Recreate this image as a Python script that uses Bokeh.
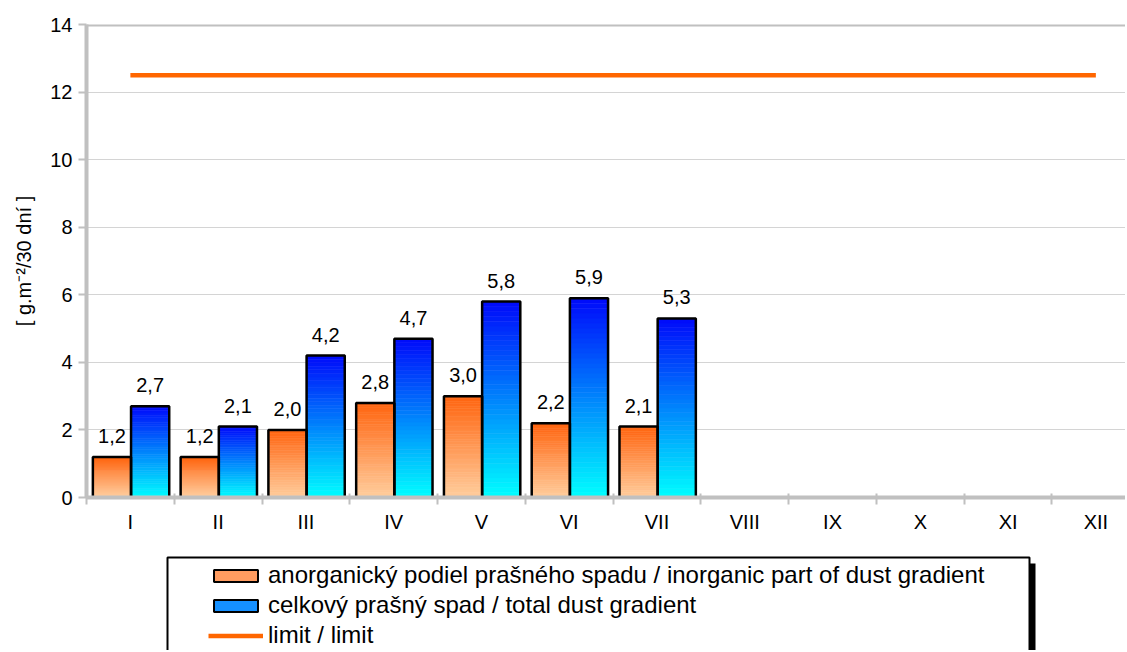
from bokeh.plotting import figure
from bokeh.layouts import column
from bokeh.models import (Range1d, FixedTicker, ColumnDataSource, Legend, LegendItem,
                          BoxAnnotation, Span)
from bokeh.core.properties import value
from bokeh.embed import file_html
from bokeh.resources import INLINE

# ---- data ----
months = ["I", "II", "III", "IV", "V", "VI", "VII", "VIII", "IX", "X", "XI", "XII"]
inorganic = [1.2, 1.2, 2.0, 2.8, 3.0, 2.2, 2.1]
total = [2.7, 2.1, 4.2, 4.7, 5.8, 5.9, 5.3]
limit = [12.5] * 12
y_ticks = [0, 2, 4, 6, 8, 10, 12, 14]
labels = {
    "inorganic": "anorganický podiel prašného spadu / inorganic part of dust gradient",
    "total": "celkový prašný spad / total dust gradient",
    "limit": "limit / limit",
}
y_title = "[ g.m⁻²/30 dní ]"

FONT = "Liberation Sans"
ORANGE_TOP = (255, 100, 15)
ORANGE_BOT = (255, 206, 158)
BLUE_TOP = (0, 10, 250)
BLUE_BOT = (0, 255, 255)
NSLICE = 40
BAR_W = 0.435
OFF_O = 0.29
OFF_B = 0.725
NAN = float("nan")


def hexc(c):
    return "#%02x%02x%02x" % tuple(int(round(v)) for v in c)


def gradient_source(vals, offset, top_c, bot_c):
    xs, bots, tops, cols = [], [], [], []
    for i, v in enumerate(vals):
        for k in range(NSLICE):
            t = (k + 0.5) / NSLICE
            xs.append(i + offset)
            bots.append(v * k / NSLICE)
            tops.append(v * (k + 1) / NSLICE)
            cols.append(hexc([b + (a - b) * t for a, b in zip(top_c, bot_c)]))
    return ColumnDataSource(dict(x=xs, bottom=bots, top=tops, color=cols))


W = 1125
H_MAIN = 545
H_LEG = 105
LEFT = 86
x_end = (W - LEFT) / 87.77

p = figure(width=W, height=H_MAIN, output_backend="svg", toolbar_location=None,
           x_range=Range1d(0, x_end), y_range=Range1d(0, 14),
           min_border_left=LEFT, min_border_right=0, min_border_top=24, min_border_bottom=48)
p.outline_line_color = None
p.background_fill_color = "white"

# grid
p.xgrid.visible = False
p.ygrid.ticker = FixedTicker(ticks=y_ticks)
p.ygrid.grid_line_color = "#d4d4d4"
p.ygrid.grid_line_width = 1

# y axis
p.yaxis.ticker = FixedTicker(ticks=y_ticks)
p.yaxis.axis_line_color = "#c0c0c0"
p.yaxis.axis_line_width = 4
p.yaxis.major_tick_line_color = "#c0c0c0"
p.yaxis.major_tick_line_width = 2
p.yaxis.major_tick_out = 8
p.yaxis.major_tick_in = 0
p.yaxis.minor_tick_line_color = None
p.yaxis.major_label_text_font = FONT
p.yaxis.major_label_text_font_size = "20px"
p.yaxis.major_label_text_color = "black"
p.yaxis.major_label_standoff = 6
p.yaxis.axis_label = y_title
p.yaxis.axis_label_text_font = FONT
p.yaxis.axis_label_text_font_style = "normal"
p.yaxis.axis_label_text_font_size = "20px"
p.yaxis.axis_label_text_color = "black"
p.yaxis.axis_label_standoff = 12

# x axis: labels at centers, ticks at boundaries
centers = [i + 0.5 for i in range(len(months))]
p.xaxis.ticker = FixedTicker(ticks=centers, minor_ticks=list(range(len(months) + 1)))
p.xaxis.major_label_overrides = {c: m for c, m in zip(centers, months)}
p.xaxis.axis_line_color = "#c0c0c0"
p.xaxis.axis_line_width = 4
p.xaxis.major_tick_line_color = None
p.xaxis.major_tick_out = 7
p.xaxis.major_tick_in = 0
p.xaxis.minor_tick_line_color = "#c0c0c0"
p.xaxis.minor_tick_line_width = 2
p.xaxis.minor_tick_out = 7
p.xaxis.minor_tick_in = 4
p.xaxis.major_label_text_font = FONT
p.xaxis.major_label_text_font_size = "20px"
p.xaxis.major_label_text_color = "black"
p.xaxis.major_label_standoff = 6

# top border
p.add_layout(Span(location=14, dimension="width", line_color="#c0c0c0", line_width=4))

# gradient bars
so = gradient_source(inorganic, OFF_O, ORANGE_TOP, ORANGE_BOT)
sb = gradient_source(total, OFF_B, BLUE_TOP, BLUE_BOT)
p.vbar(x="x", bottom="bottom", top="top", width=BAR_W, fill_color="color", line_color="color",
       line_width=0.6, source=so)
p.vbar(x="x", bottom="bottom", top="top", width=BAR_W, fill_color="color", line_color="color",
       line_width=0.6, source=sb)
# outlines
xo = [i + OFF_O for i in range(len(inorganic))]
xb = [i + OFF_B for i in range(len(total))]
p.vbar(x=xo, top=inorganic, width=BAR_W, fill_alpha=0, line_color="black", line_width=2.5)
p.vbar(x=xb, top=total, width=BAR_W, fill_alpha=0, line_color="black", line_width=2.5)

# limit line
p.line(x=centers, y=limit, line_color="#ff6600", line_width=4.5)

# data labels
fmt = lambda v: ("%.1f" % v).replace(".", ",")
p.text(x=xo, y=inorganic, text=[fmt(v) for v in inorganic], text_align="center",
       text_baseline="middle", y_offset=-21, text_font=value(FONT), text_font_size="20px",
       text_color="black")
p.text(x=xb, y=total, text=[fmt(v) for v in total], text_align="center",
       text_baseline="middle", y_offset=-21, text_font=value(FONT), text_font_size="20px",
       text_color="black")

# ---- legend panel (separate figure below the chart; data coords = page pixels) ----
lf = figure(width=W, height=H_LEG, output_backend="svg", toolbar_location=None,
            x_range=Range1d(LEFT, W), y_range=Range1d(H_MAIN + H_LEG, H_MAIN),
            x_axis_type=None, y_axis_type=None,
            min_border_left=LEFT, min_border_right=0, min_border_top=0, min_border_bottom=0)
lf.outline_line_color = None
lf.grid.visible = False
lf.background_fill_color = "white"
lf.border_fill_color = "white"

lf.add_layout(BoxAnnotation(left=1029, right=1035, top=563, bottom=800,
                            fill_color="black", fill_alpha=1, line_alpha=0))
lf.add_layout(BoxAnnotation(left=167, right=1029, top=557, bottom=800,
                            fill_color="white", fill_alpha=1, line_color="black",
                            line_alpha=1, line_width=2))

lo = lf.vbar(x=[NAN], top=[NAN], width=1, fill_color="#ff9c60", line_color="black", line_width=2)
lb = lf.vbar(x=[NAN], top=[NAN], width=1, fill_color="#1590ff", line_color="black", line_width=2)
ll = lf.line(x=[NAN], y=[NAN], line_color="#ff6600", line_width=4.5)

legend = Legend(items=[LegendItem(label=labels["inorganic"], renderers=[lo]),
                       LegendItem(label=labels["total"], renderers=[lb]),
                       LegendItem(label=labels["limit"], renderers=[ll])],
                location=(208 - LEFT, 0), orientation="vertical",
                padding=0, spacing=0, label_height=30, glyph_height=15, glyph_width=55,
                label_standoff=5, border_line_alpha=0, background_fill_alpha=0,
                label_text_font=FONT, label_text_font_size="24px", label_text_color="black",
                margin=0)
lf.add_layout(legend, "center")

layout = column(p, lf, spacing=0)
open("out.html", "w").write(file_html(layout, INLINE))
